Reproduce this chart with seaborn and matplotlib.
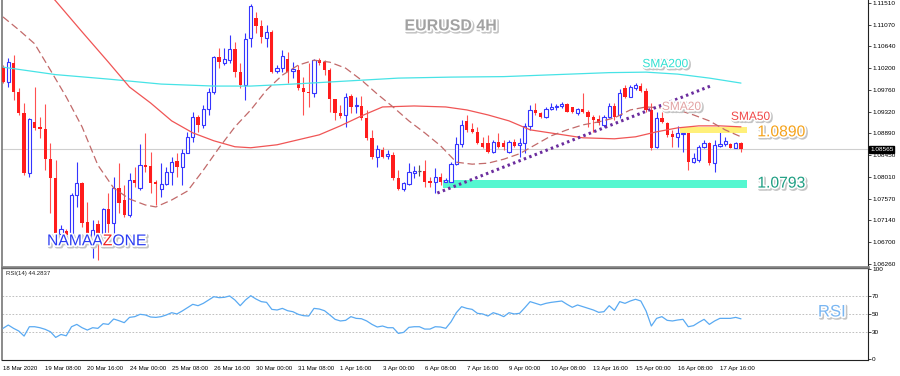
import numpy as np
import pandas as pd
import matplotlib
matplotlib.use("Agg")
import matplotlib.pyplot as plt
import matplotlib.patheffects as pe
import matplotlib.transforms as mtransforms
import seaborn as sns

# EURUSD 4H candles, 18 Mar 2020 -> 20 Apr 2020
opens = [1.1022, 1.0992, 1.1030, 1.0972, 1.0930, 1.0809, 1.0912, 1.0902, 1.0898, 1.0837,
         1.0799, 1.0687, 1.0693, 1.0685, 1.0765, 1.0789, 1.0711, 1.0675, 1.0707, 1.0689,
         1.0737, 1.0709, 1.0779, 1.0755, 1.0725, 1.0795, 1.0779, 1.0825, 1.0823, 1.0791,
         1.0777, 1.0787, 1.0811, 1.0833, 1.0821, 1.0850, 1.0882, 1.0922, 1.0906, 1.0938,
         1.0972, 1.1042, 1.1030, 1.1036, 1.1059, 1.1012, 1.0986, 1.1081, 1.1121, 1.1105,
         1.1081, 1.1093, 1.1014, 1.1020, 1.1038, 1.1014, 1.1016, 1.0980, 1.0972, 1.0970,
         1.1036, 1.1032, 1.1016, 1.0958, 1.0930, 1.0926, 1.0964, 1.0944, 1.0944, 1.0920,
         1.0880, 1.0841, 1.0856, 1.0844, 1.0846, 1.0799, 1.0777, 1.0787, 1.0809, 1.0813,
         1.0813, 1.0793, 1.0791, 1.0801, 1.0791, 1.0791, 1.0827, 1.0868, 1.0914, 1.0898,
         1.0892, 1.0870, 1.0870, 1.0852, 1.0872, 1.0870, 1.0852, 1.0872, 1.0866, 1.0870,
         1.0904, 1.0936, 1.0930, 1.0922, 1.0938, 1.0942, 1.0944, 1.0948, 1.0942, 1.0930,
         1.0938, 1.0932, 1.0922, 1.0918, 1.0906, 1.0922, 1.0944, 1.0926, 1.0980, 1.0962,
         1.0980, 1.0984, 1.0974, 1.0936, 1.0862, 1.0920, 1.0910, 1.0888, 1.0882, 1.0888,
         1.0890, 1.0831, 1.0835, 1.0862, 1.0870, 1.0829, 1.0864, 1.0868, 1.0868, 1.0860,
         1.0870]
highs = [1.1026, 1.1040, 1.1046, 1.0980, 1.0950, 1.0920, 1.0982, 1.0922, 1.0948, 1.0870,
         1.0835, 1.0705, 1.0697, 1.0769, 1.0831, 1.0791, 1.0751, 1.0715, 1.0715, 1.0739,
         1.0769, 1.0801, 1.0829, 1.0785, 1.0809, 1.0821, 1.0868, 1.0890, 1.0852, 1.0795,
         1.0829, 1.0821, 1.0841, 1.0850, 1.0858, 1.0892, 1.0932, 1.0926, 1.0946, 1.0980,
         1.1044, 1.1061, 1.1061, 1.1087, 1.1073, 1.1030, 1.1091, 1.1149, 1.1133, 1.1117,
         1.1107, 1.1097, 1.1026, 1.1057, 1.1052, 1.1032, 1.1026, 1.1002, 1.1030, 1.1038,
         1.1040, 1.1036, 1.1020, 1.0958, 1.0946, 1.0970, 1.0968, 1.0962, 1.0964, 1.0936,
         1.0896, 1.0866, 1.0862, 1.0856, 1.0852, 1.0815, 1.0791, 1.0829, 1.0823, 1.0825,
         1.0835, 1.0801, 1.0819, 1.0809, 1.0799, 1.0831, 1.0882, 1.0916, 1.0926, 1.0910,
         1.0902, 1.0882, 1.0886, 1.0876, 1.0890, 1.0876, 1.0876, 1.0878, 1.0880, 1.0910,
         1.0946, 1.0950, 1.0932, 1.0942, 1.0950, 1.0948, 1.0952, 1.0950, 1.0942, 1.0940,
         1.0970, 1.0936, 1.0926, 1.0926, 1.0926, 1.0950, 1.0950, 1.0978, 1.0986, 1.0986,
         1.0990, 1.0990, 1.0980, 1.0950, 1.0932, 1.0932, 1.0912, 1.0896, 1.0904, 1.0902,
         1.0900, 1.0850, 1.0866, 1.0876, 1.0872, 1.0876, 1.0892, 1.0882, 1.0870, 1.0872,
         1.0872]
lows = [1.0990, 1.0982, 1.0956, 1.0926, 1.0805, 1.0801, 1.0896, 1.0880, 1.0815, 1.0729,
        1.0675, 1.0671, 1.0675, 1.0675, 1.0741, 1.0701, 1.0679, 1.0638, 1.0634, 1.0685,
        1.0689, 1.0689, 1.0729, 1.0721, 1.0721, 1.0781, 1.0775, 1.0811, 1.0769, 1.0745,
        1.0761, 1.0785, 1.0785, 1.0801, 1.0785, 1.0850, 1.0872, 1.0892, 1.0900, 1.0926,
        1.0968, 1.1020, 1.1026, 1.1030, 1.1002, 1.0980, 1.0956, 1.1063, 1.1091, 1.1071,
        1.1063, 1.1010, 1.1010, 1.1012, 1.0990, 1.1000, 1.0976, 1.0926, 1.0942, 1.0962,
        1.1026, 1.1006, 1.0932, 1.0916, 1.0920, 1.0902, 1.0930, 1.0930, 1.0916, 1.0876,
        1.0837, 1.0821, 1.0839, 1.0837, 1.0795, 1.0775, 1.0773, 1.0785, 1.0799, 1.0803,
        1.0781, 1.0781, 1.0769, 1.0785, 1.0785, 1.0789, 1.0825, 1.0862, 1.0892, 1.0890,
        1.0868, 1.0860, 1.0850, 1.0850, 1.0860, 1.0856, 1.0850, 1.0862, 1.0841, 1.0850,
        1.0896, 1.0926, 1.0920, 1.0920, 1.0936, 1.0936, 1.0940, 1.0932, 1.0930, 1.0926,
        1.0930, 1.0902, 1.0892, 1.0906, 1.0902, 1.0920, 1.0916, 1.0920, 1.0960, 1.0962,
        1.0976, 1.0972, 1.0932, 1.0856, 1.0860, 1.0910, 1.0882, 1.0862, 1.0862, 1.0852,
        1.0815, 1.0829, 1.0831, 1.0860, 1.0825, 1.0811, 1.0862, 1.0864, 1.0860, 1.0860,
        1.0852]
closes = [1.0992, 1.1032, 1.0972, 1.0930, 1.0809, 1.0918, 1.0900, 1.0898, 1.0837, 1.0799,
          1.0689, 1.0697, 1.0685, 1.0765, 1.0789, 1.0709, 1.0689, 1.0695, 1.0689, 1.0737,
          1.0707, 1.0779, 1.0749, 1.0725, 1.0795, 1.0789, 1.0825, 1.0821, 1.0789, 1.0787,
          1.0787, 1.0811, 1.0831, 1.0821, 1.0850, 1.0882, 1.0922, 1.0906, 1.0938, 1.0972,
          1.1042, 1.1032, 1.1038, 1.1059, 1.1012, 1.0986, 1.1079, 1.1145, 1.1105, 1.1083,
          1.1093, 1.1012, 1.1020, 1.1044, 1.1012, 1.1018, 1.0980, 1.0972, 1.0970, 1.1036,
          1.1030, 1.1016, 1.0958, 1.0930, 1.0924, 1.0962, 1.0942, 1.0946, 1.0920, 1.0880,
          1.0841, 1.0858, 1.0841, 1.0848, 1.0799, 1.0777, 1.0789, 1.0811, 1.0813, 1.0813,
          1.0791, 1.0789, 1.0801, 1.0791, 1.0795, 1.0827, 1.0868, 1.0906, 1.0896, 1.0892,
          1.0870, 1.0862, 1.0852, 1.0872, 1.0862, 1.0862, 1.0872, 1.0864, 1.0870, 1.0904,
          1.0936, 1.0930, 1.0922, 1.0938, 1.0942, 1.0944, 1.0948, 1.0932, 1.0932, 1.0938,
          1.0932, 1.0922, 1.0916, 1.0910, 1.0922, 1.0944, 1.0922, 1.0970, 1.0962, 1.0982,
          1.0986, 1.0974, 1.0936, 1.0860, 1.0920, 1.0912, 1.0886, 1.0882, 1.0890, 1.0890,
          1.0831, 1.0839, 1.0862, 1.0870, 1.0829, 1.0866, 1.0868, 1.0874, 1.0860, 1.0870,
          1.08565]

rsi = [33.7, 37.4, 33.7, 30.7, 25.1, 35.5, 35.5, 34.4, 32.6, 29.9,
       23.6, 26.9, 25.4, 35.5, 38.1, 34.4, 31.8, 34.4, 33.7, 38.9,
       38.1, 44.1, 42.2, 40.0, 45.9, 46.7, 49.3, 48.6, 46.3, 45.9,
       46.7, 48.6, 51.1, 49.7, 53.0, 56.7, 60.4, 58.9, 61.5, 65.2,
       68.9, 67.8, 68.2, 69.7, 65.2, 58.9, 65.2, 70.0, 66.3, 63.4,
       62.6, 54.8, 54.1, 55.9, 53.3, 52.2, 49.3, 47.8, 47.4, 55.9,
       55.2, 53.3, 48.6, 43.7, 41.9, 42.6, 46.7, 44.8, 44.4, 41.9,
       38.1, 35.2, 36.3, 34.4, 34.4, 28.1, 29.2, 34.8, 35.5, 35.5,
       32.9, 32.9, 35.5, 35.2, 33.7, 41.0, 51.1, 57.8, 55.9, 54.8,
       50.4, 49.7, 47.4, 51.1, 49.3, 46.7, 51.1, 49.7, 50.4, 56.7,
       63.4, 61.5, 59.7, 61.5, 62.6, 63.4, 64.1, 60.4, 57.1, 59.7,
       57.8, 55.9, 54.1, 51.5, 52.2, 58.9, 53.7, 63.4, 61.5, 64.1,
       66.0, 64.1, 53.0, 36.3, 44.8, 46.7, 42.6, 41.9, 43.0, 43.7,
       35.5, 36.7, 40.4, 43.7, 38.1, 41.9, 44.8, 44.8, 44.8, 45.9,
       44.28]

# moving averages, sampled at candle indices
sma20_idx = [0, 3, 6, 9, 12, 15, 18, 21, 24, 27, 29, 32, 35, 38, 41, 44, 47, 50, 53, 56,
             59, 62, 65, 68, 71, 74, 77, 80, 83, 86, 89, 92, 95, 98, 101, 104, 107, 110,
             113, 116, 119, 122, 125, 128, 131, 134, 137, 140]
sma20_val = [1.1123, 1.1097, 1.1069, 1.1016, 1.0962, 1.0902, 1.0825, 1.0779, 1.0757, 1.0745,
             1.0741, 1.0755, 1.0773, 1.0815, 1.0860, 1.0902, 1.0936, 1.0976, 1.1006, 1.1026,
             1.1036, 1.1032, 1.1020, 1.0996, 1.0968, 1.0942, 1.0914, 1.0890, 1.0864, 1.0831,
             1.0827, 1.0829, 1.0837, 1.0848, 1.0866, 1.0884, 1.0896, 1.0906, 1.0912, 1.0920,
             1.0936, 1.0942, 1.0940, 1.0936, 1.0926, 1.0914, 1.0896, 1.0882]
sma50_idx = [0, 5, 10, 15, 20, 24, 28, 32, 36, 40, 44, 47, 52, 56, 60, 64, 68, 72, 78, 84,
             88, 92, 96, 100, 105, 110, 116, 120, 124, 128, 132, 136, 140]
sma50_val = [1.1268, 1.1213, 1.1155, 1.1093, 1.1032, 1.0982, 1.0950, 1.0914, 1.0890, 1.0874,
             1.0862, 1.0860, 1.0866, 1.0876, 1.0886, 1.0904, 1.0924, 1.0942, 1.0944, 1.0942,
             1.0936, 1.0926, 1.0914, 1.0896, 1.0888, 1.0880, 1.0878, 1.0882, 1.0892, 1.0900,
             1.0904, 1.0904, 1.0902]
sma200_idx = [0, 10, 20, 30, 40, 47, 55, 65, 75, 85, 95, 105, 115, 122, 128, 134, 140]
sma200_val = [1.1022, 1.1007, 1.0998, 1.0988, 1.0984, 1.0984, 1.0988, 1.0994, 1.1000, 1.1002,
              1.1003, 1.1007, 1.1011, 1.1012, 1.1008, 1.1000, 1.0990]

date_idx = [0, 8, 16, 24, 32, 40, 48, 56, 64, 72, 80, 88, 96, 104, 112, 120, 128, 136]
date_labels = ["18 Mar 2020", "19 Mar 08:00", "20 Mar 16:00", "24 Mar 00:00", "25 Mar 08:00",
               "26 Mar 16:00", "30 Mar 00:00", "31 Mar 08:00", "1 Apr 16:00", "3 Apr 00:00",
               "6 Apr 08:00", "7 Apr 16:00", "9 Apr 00:00", "10 Apr 08:00", "13 Apr 16:00",
               "15 Apr 00:00", "16 Apr 08:00", "17 Apr 16:00"]
price_ticks = [1.11510, 1.11070, 1.10640, 1.10200, 1.09760, 1.09320, 1.08890,
               1.08450, 1.08010, 1.07570, 1.07140, 1.06700, 1.06260]
rsi_ticks = [0, 30, 50, 70, 100]
last_price = 1.08565

# drawn objects on the chart
trend_x = [82.4, 134.2]
trend_y = [1.0769, 1.0984]
resist_zone = [128.5, 141.2, 1.0890, 1.0902]
support_zone = [83.5, 141.2, 1.0779, 1.0795]

df = pd.DataFrame({"o": opens, "h": highs, "l": lows, "c": closes, "rsi": rsi})
df["i"] = np.arange(len(df))

sns.set_style("white")
plt.rcParams["font.family"] = ["Liberation Sans", "DejaVu Sans"]

fig = plt.figure(figsize=(9, 3.76), dpi=100)
ax = fig.add_axes([2 / 900, 109 / 376, 866 / 900, 267 / 376])
ax2 = fig.add_axes([2 / 900, 16 / 376, 866 / 900, 92 / 376])

BLUE = "#3535ff"
RED = "#ff1c1c"

# current price line
ax.axhline(last_price, color="#cfcfcf", lw=0.8, zorder=1)

# candles
up = df[df.c > df.o]
dn = df[df.c < df.o]
flat = df[df.c == df.o]
ax.vlines(up.i, up.l, up.h, color=BLUE, lw=0.8, zorder=2)
ax.vlines(dn.i, dn.l, dn.h, color="#ff5050", lw=0.8, zorder=2)
ax.vlines(flat.i, flat.l, flat.h, color="#555555", lw=0.8, zorder=2)
ax.bar(up.i, up.c - up.o, bottom=up.o, width=0.62, facecolor="white",
       edgecolor=BLUE, lw=0.8, zorder=3)
ax.bar(dn.i, dn.o - dn.c, bottom=dn.c, width=0.62, color=RED, lw=0, zorder=3)
ax.hlines(flat.o, flat.i - 0.35, flat.i + 0.35, color="#555555", lw=0.9, zorder=3)

# moving averages
sns.lineplot(x=sma200_idx, y=sma200_val, ax=ax, color="#47e3e6", lw=0.9, zorder=4)
sns.lineplot(x=sma50_idx, y=sma50_val, ax=ax, color="#f05555", lw=0.9, zorder=4)
sns.lineplot(x=sma20_idx, y=sma20_val, ax=ax, color="#c26a6a", lw=0.9, zorder=4,
             linestyle=(0, (6, 3)))

# zones and trend line
ax.fill_between(resist_zone[:2], resist_zone[2], resist_zone[3], color="#fff07a",
                lw=0, zorder=2.5)
ax.fill_between(support_zone[:2], support_zone[2], support_zone[3], color="#55f7d0",
                lw=0, zorder=2.5)
ax.plot(trend_x, trend_y, color="#6b2d9e", lw=2.2, linestyle=(0, (0.8, 1.1)),
        zorder=5)

ax.set_xlim(-0.19, 164.1)
ax.set_ylim(1.06203, 1.1157)
ax.set_xticks([])
ax.yaxis.tick_right()
ax.set_yticks(price_ticks)
ax.set_yticklabels([f"{v:.5f}" for v in price_ticks])
ax.tick_params(axis="y", labelsize=4.6, length=2, width=0.5, pad=1, colors="black")
ax.set_xlabel("")
ax.set_ylabel("")
ax.spines["top"].set_visible(False)
ax.spines["left"].set_color("#777777")
ax.spines["left"].set_linewidth(1.2)
ax.spines["right"].set_color("#222222")
ax.spines["right"].set_linewidth(0.8)
ax.spines["bottom"].set_color("#8a8a8a")
ax.spines["bottom"].set_linewidth(2)

# last price tag
tr = mtransforms.blended_transform_factory(ax.transAxes, ax.transData)
ax.text(1.0023, last_price, f"{last_price:.5f}", transform=tr, fontsize=4.6,
        color="white", va="center", ha="left", zorder=10, clip_on=False,
        bbox=dict(boxstyle="square,pad=0.15", fc="black", ec="black"))

fx = [pe.Stroke(linewidth=2.6, foreground="#c4c4c4", offset=(1, -1)),
      pe.Stroke(linewidth=2.4, foreground="white"), pe.Normal()]

ax.text(85.0, 1.1105, "EURUSD 4H", fontsize=11.5, fontweight="bold", color="#a2a2a2",
        ha="center", va="center", path_effects=fx, zorder=8)
t1 = ax.text(8.35, 1.0673, "NAMAA", fontsize=11.3, color="#2b3cf2", ha="left",
             va="center", path_effects=fx, zorder=8)
t2 = ax.annotate("Z", xy=(1, 0), xycoords=t1, ha="left", va="bottom", fontsize=11.3,
                 color="#ef2020", path_effects=fx, zorder=8)
ax.annotate("ONE", xy=(1, 0), xycoords=t2, ha="left", va="bottom", fontsize=11.3,
            color="#2b3cf2", path_effects=fx, zorder=8)
ax.text(121.3, 1.1028, "SMA200", fontsize=8.6, color="#2fe0d2", ha="left",
        va="center", path_effects=fx, zorder=8)
ax.text(125.0, 1.0942, "SMA20", fontsize=8.6, color="#e2a3a3", ha="left",
        va="center", path_effects=fx, zorder=8)
ax.text(138.1, 1.0922, "SMA50", fontsize=8.6, color="#f04848", ha="left",
        va="center", path_effects=fx, zorder=8)
ax.text(143.1, 1.0892, "1.0890", fontsize=11.3, color="#f5a31c", ha="left",
        va="center", path_effects=fx, zorder=8)
ax.text(143.1, 1.0789, "1.0793", fontsize=11.3, color="#1e9e82", ha="left",
        va="center", path_effects=fx, zorder=8)

# RSI panel
for lvl in [30, 50, 70]:
    ax2.axhline(lvl, color="#b5b5b5", lw=0.6, linestyle=(0, (2, 2)), zorder=1)
sns.lineplot(data=df, x="i", y="rsi", ax=ax2, color="#5aaaf2", lw=0.9, zorder=3)
ax2.text(154.6, 51.9, "RSI", fontsize=12, color="#79b6f2", ha="left", va="center",
         path_effects=fx, zorder=8)
ax2.text(0.005, 0.97, "RSI(14) 44.2837", transform=ax2.transAxes, fontsize=4.3,
         color="#222222", ha="left", va="top")

ax2.set_xlim(-0.19, 164.1)
ax2.set_ylim(-1.5, 100.8)
ax2.yaxis.tick_right()
ax2.set_yticks(rsi_ticks)
ax2.set_yticklabels([str(v) for v in rsi_ticks])
ax2.set_xticks(date_idx)
ax2.set_xticklabels(date_labels, ha="left")
ax2.tick_params(axis="both", labelsize=4.6, length=2, width=0.5, pad=1, colors="black")
ax2.tick_params(axis="x", labelsize=4.4, pad=2)
ax2.set_xlabel("")
ax2.set_ylabel("")
ax2.spines["left"].set_color("#777777")
ax2.spines["left"].set_linewidth(1.2)
ax2.spines["top"].set_color("#666666")
ax2.spines["top"].set_linewidth(1.0)
ax2.spines["right"].set_color("#222222")
ax2.spines["right"].set_linewidth(0.8)
ax2.spines["bottom"].set_color("#222222")
ax2.spines["bottom"].set_linewidth(0.8)

fig.savefig("out.png", dpi=100)
